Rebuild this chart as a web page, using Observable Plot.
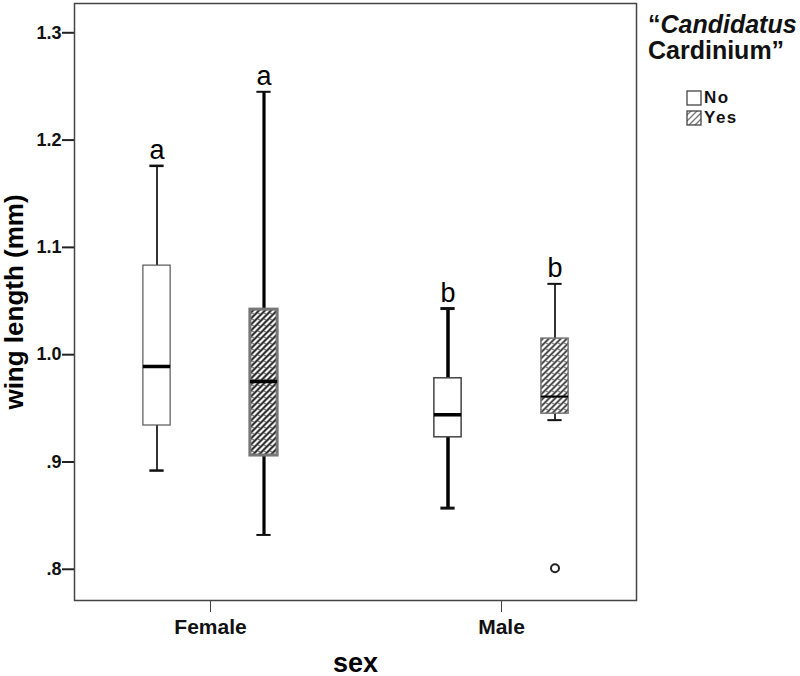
<!DOCTYPE html>
<html><head><meta charset="utf-8">
<script src="https://cdn.jsdelivr.net/npm/d3@7"></script>
<script src="https://cdn.jsdelivr.net/npm/@observablehq/plot@0.6"></script>
<style>
body{margin:0;background:#fff;font-family:"Liberation Sans",Arial,sans-serif}
#wrap{position:relative;width:800px;height:676px;overflow:hidden}
#legend{position:absolute;left:648px;top:0px;color:#111}
#legend .t{font-size:25px;font-weight:bold;line-height:26px;white-space:nowrap;padding-top:11px}
#legend .item{position:absolute;left:38px;height:16px;line-height:16px;font-size:17px;font-weight:bold;letter-spacing:1.5px;white-space:nowrap;display:flex;align-items:center}
#legend .item svg{margin-right:2px}
</style></head><body>
<div id="wrap"></div>
<script>
// ---- data ----
const sexes = ["Female", "Male"];
const groups = ["No", "Yes"];
const boxSex = ["Female", "Female", "Male", "Male"];
const boxGroup = ["No", "Yes", "No", "Yes"];
const whiskerLow = [0.892, 0.832, 0.857, 0.939];
const q1 = [0.934, 0.906, 0.923, 0.945];
const median = [0.989, 0.975, 0.944, 0.961];
const q3 = [1.083, 1.042, 0.978, 1.015];
const whiskerHigh = [1.176, 1.245, 1.043, 1.066];
const letters = ["a", "a", "b", "b"];
const outlierSex = ["Male"];
const outlierGroup = ["Yes"];
const outlierValue = [0.801];
const yTicks = [0.8, 0.9, 1.0, 1.1, 1.2, 1.3];
const yTickLabels = [".8", ".9", "1.0", "1.1", "1.2", "1.3"];
const yLabel = "wing length (mm)";
const xLabel = "sex";
const legendTitleItalic = "Candidatus";
const legendTitleRest = "Cardinium";

const rows = boxSex.map((s, i) => ({sex: s, group: boxGroup[i], lo: whiskerLow[i], q1: q1[i], med: median[i], q3: q3[i], hi: whiskerHigh[i], letter: letters[i]}));
const outRows = outlierSex.map((s, i) => ({sex: s, group: outlierGroup[i], value: outlierValue[i]}));

// ---- layout / style ----
const mL = 74, mR = 164, W = 800;
const pIn = 0.5, pOut = 0.214;
const bw = d3.scaleBand().domain(sexes).range([mL, W - mR]).paddingInner(pIn).paddingOuter(pOut).bandwidth();
const boxInset = (bw - 27) / 2;
const capInset = (bw - 14) / 2;
const DX = {No: -53.5, Yes: 53.5};
const styleOf = {
  "Female-No":  {wh: 1.6, cap: 2.5, boxStroke: "#555", boxW: 1.2, fill: "white", med: 3.5},
  "Female-Yes": {wh: 3.2, cap: 2,   boxStroke: "#777", boxW: 3,   fill: "url(#hatchDark)", med: 3.5},
  "Male-No":    {wh: 3.5, cap: 3,   boxStroke: "#444", boxW: 1.5, fill: "white", med: 3.5},
  "Male-Yes":   {wh: 1.6, cap: 2,   boxStroke: "#777", boxW: 1.5, fill: "url(#hatchLight)", med: 2}
};

const boxMarks = rows.flatMap(r => {
  const st = styleOf[r.sex + "-" + r.group];
  const dx = DX[r.group];
  const d = [r];
  return [
    Plot.ruleX(d, {x: "sex", y1: "lo", y2: "q1", dx, stroke: "#000", strokeWidth: st.wh}),
    Plot.ruleX(d, {x: "sex", y1: "q3", y2: "hi", dx, stroke: "#000", strokeWidth: st.wh}),
    Plot.tickY(d, {x: "sex", y: "lo", dx, insetLeft: capInset, insetRight: capInset, stroke: "#111", strokeWidth: st.cap}),
    Plot.tickY(d, {x: "sex", y: "hi", dx, insetLeft: capInset, insetRight: capInset, stroke: "#111", strokeWidth: st.cap}),
    Plot.barY(d, {x: "sex", y1: "q1", y2: "q3", dx, insetLeft: boxInset, insetRight: boxInset, fill: st.fill, stroke: st.boxStroke, strokeWidth: st.boxW}),
    Plot.tickY(d, {x: "sex", y: "med", dx, insetLeft: boxInset, insetRight: boxInset, stroke: "#000", strokeWidth: st.med}),
    Plot.text(d, {x: "sex", y: "hi", text: "letter", dx, dy: -7, lineAnchor: "bottom", fontSize: 27, fill: "#000"})
  ];
});

const defsMark = () => {
  const svg = d3.create("svg:g");
  const defs = svg.append("defs");
  const mk = (id, sw, col, dots) => {
    const p = defs.append("pattern").attr("id", id).attr("patternUnits", "userSpaceOnUse").attr("width", 6).attr("height", 6);
    p.append("rect").attr("width", 6).attr("height", 6).attr("fill", "white");
    p.append("path").attr("d", "M-1,1 l2,-2 M0,6 l6,-6 M5,7 l2,-2").attr("stroke", col).attr("stroke-width", sw);
    if (dots) p.append("circle").attr("cx", 1.5).attr("cy", 1.5).attr("r", 0.7).attr("fill", "#333");
  };
  mk("hatchDark", 2.0, "#222", true);
  mk("hatchLight", 1.8, "#333", true);
  mk("hatchLegend", 1.3, "#777", false);
  return svg.node();
};

const plot = Plot.plot({
  width: W, height: 676,
  marginLeft: mL, marginRight: mR, marginTop: 3, marginBottom: 76,
  style: {fontFamily: '"Liberation Sans", Arial, sans-serif', background: "white", color: "#111", overflow: "visible"},
  x: {domain: sexes, paddingInner: pIn, paddingOuter: pOut, axis: null},
  y: {domain: [0.7709, 1.3273], axis: null},
  marks: [
    defsMark,
    Plot.axisY({ticks: yTicks, tickFormat: d => yTickLabels[yTicks.findIndex(t => Math.abs(t - d) < 1e-9)], tickSize: 12, tickPadding: 1, fontSize: 18, fontWeight: "bold", strokeWidth: 2, stroke: "#222", label: null}),
    Plot.axisX({tickSize: 12, tickPadding: 7, fontSize: 21, fontWeight: "bold", stroke: "#444", label: null}),
    Plot.text([yLabel], {text: d => d, frameAnchor: "left", textAnchor: "middle", dx: -60, rotate: -90, fontSize: 26, fontWeight: "bold", fill: "#000"}),
    Plot.text([xLabel], {text: d => d, frameAnchor: "bottom", textAnchor: "middle", dy: 71, lineAnchor: "bottom", fontSize: 27, fontWeight: "bold", fill: "#000"}),
    ...boxMarks,
    Plot.dot(outRows, {x: "sex", y: "value", dx: 53.5, r: 4, stroke: "#222", strokeWidth: 2, fill: "white"}),
    Plot.frame({stroke: "#444", strokeWidth: 1.5})
  ]
});
d3.select(plot).selectAll('g[aria-label="y-axis tick label"], g[aria-label="x-axis tick label"]').attr("font-weight", "bold");

const wrap = document.getElementById("wrap");
wrap.appendChild(plot);

const legend = document.createElement("div");
legend.id = "legend";
legend.innerHTML = `<div class="t">\u201C<i>${legendTitleItalic}</i><br>${legendTitleRest}\u201D</div>` +
  groups.map((g, i) => `<div class="item" style="top:${90 + i * 20}px"><svg width="16" height="16"><rect x="1" y="1" width="14" height="14" fill="${i ? "url(#hatchLegend)" : "white"}" stroke="#444" stroke-width="1.3"/></svg>${g}</div>`).join("");
wrap.appendChild(legend);
</script>
</body></html>
